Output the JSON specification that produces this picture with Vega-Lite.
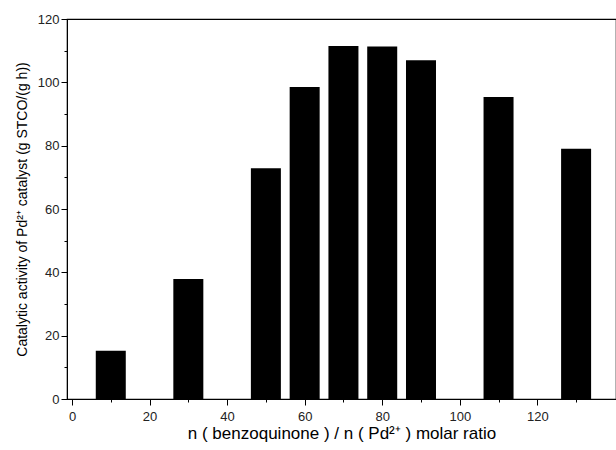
{
  "$schema": "https://vega.github.io/schema/vega-lite/v6.json",
  "width": 549,
  "height": 380,
  "autosize": {"type": "none"},
  "padding": {"left": 67, "top": 19, "right": 0, "bottom": 51},
  "background": "white",
  "config": {
    "view": {"stroke": "black", "strokeWidth": 1.2},
    "font": "Liberation Sans",
    "axis": {
      "domainColor": "black",
      "tickColor": "black",
      "labelColor": "#222",
      "titleColor": "black",
      "labelFont": "Liberation Sans",
      "titleFont": "Liberation Sans",
      "titleFontWeight": "normal",
      "grid": false
    }
  },
  "data": {
    "values": [
      {"ratio": 10, "activity": 15.2},
      {"ratio": 30, "activity": 37.9},
      {"ratio": 50, "activity": 72.9},
      {"ratio": 60, "activity": 98.5},
      {"ratio": 70, "activity": 111.5},
      {"ratio": 80, "activity": 111.3},
      {"ratio": 90, "activity": 107},
      {"ratio": 110, "activity": 95.4},
      {"ratio": 130, "activity": 79}
    ]
  },
  "mark": {"type": "bar", "color": "black", "size": 30},
  "encoding": {
    "x": {
      "field": "ratio",
      "type": "quantitative",
      "scale": {"domain": [0, 139], "nice": false, "zero": true},
      "axis": {
        "title": "n ( benzoquinone ) / n ( Pd²⁺ ) molar ratio",
        "titleFontSize": 17,
        "titlePadding": 2,
        "values": [0, 10, 20, 30, 40, 50, 60, 70, 80, 90, 100, 110, 120, 130],
        "labelExpr": "datum.value % 20 === 0 ? datum.label : ''",
        "tickSize": {"condition": {"test": "datum.value % 20 === 0", "value": 6}, "value": 3},
        "labelFontSize": 13,
        "labelPadding": 5
      }
    },
    "y": {
      "field": "activity",
      "type": "quantitative",
      "scale": {"domain": [0, 120], "nice": false},
      "axis": {
        "title": "Catalytic activity of Pd²⁺ catalyst (g STCO/(g h))",
        "titleFontSize": 14,
        "titlePadding": 8,
        "values": [0, 10, 20, 30, 40, 50, 60, 70, 80, 90, 100, 110, 120],
        "labelExpr": "datum.value % 20 === 0 ? datum.label : ''",
        "tickSize": {"condition": {"test": "datum.value % 20 === 0", "value": 6}, "value": 3},
        "labelFontSize": 13,
        "labelPadding": 2
      }
    }
  }
}
